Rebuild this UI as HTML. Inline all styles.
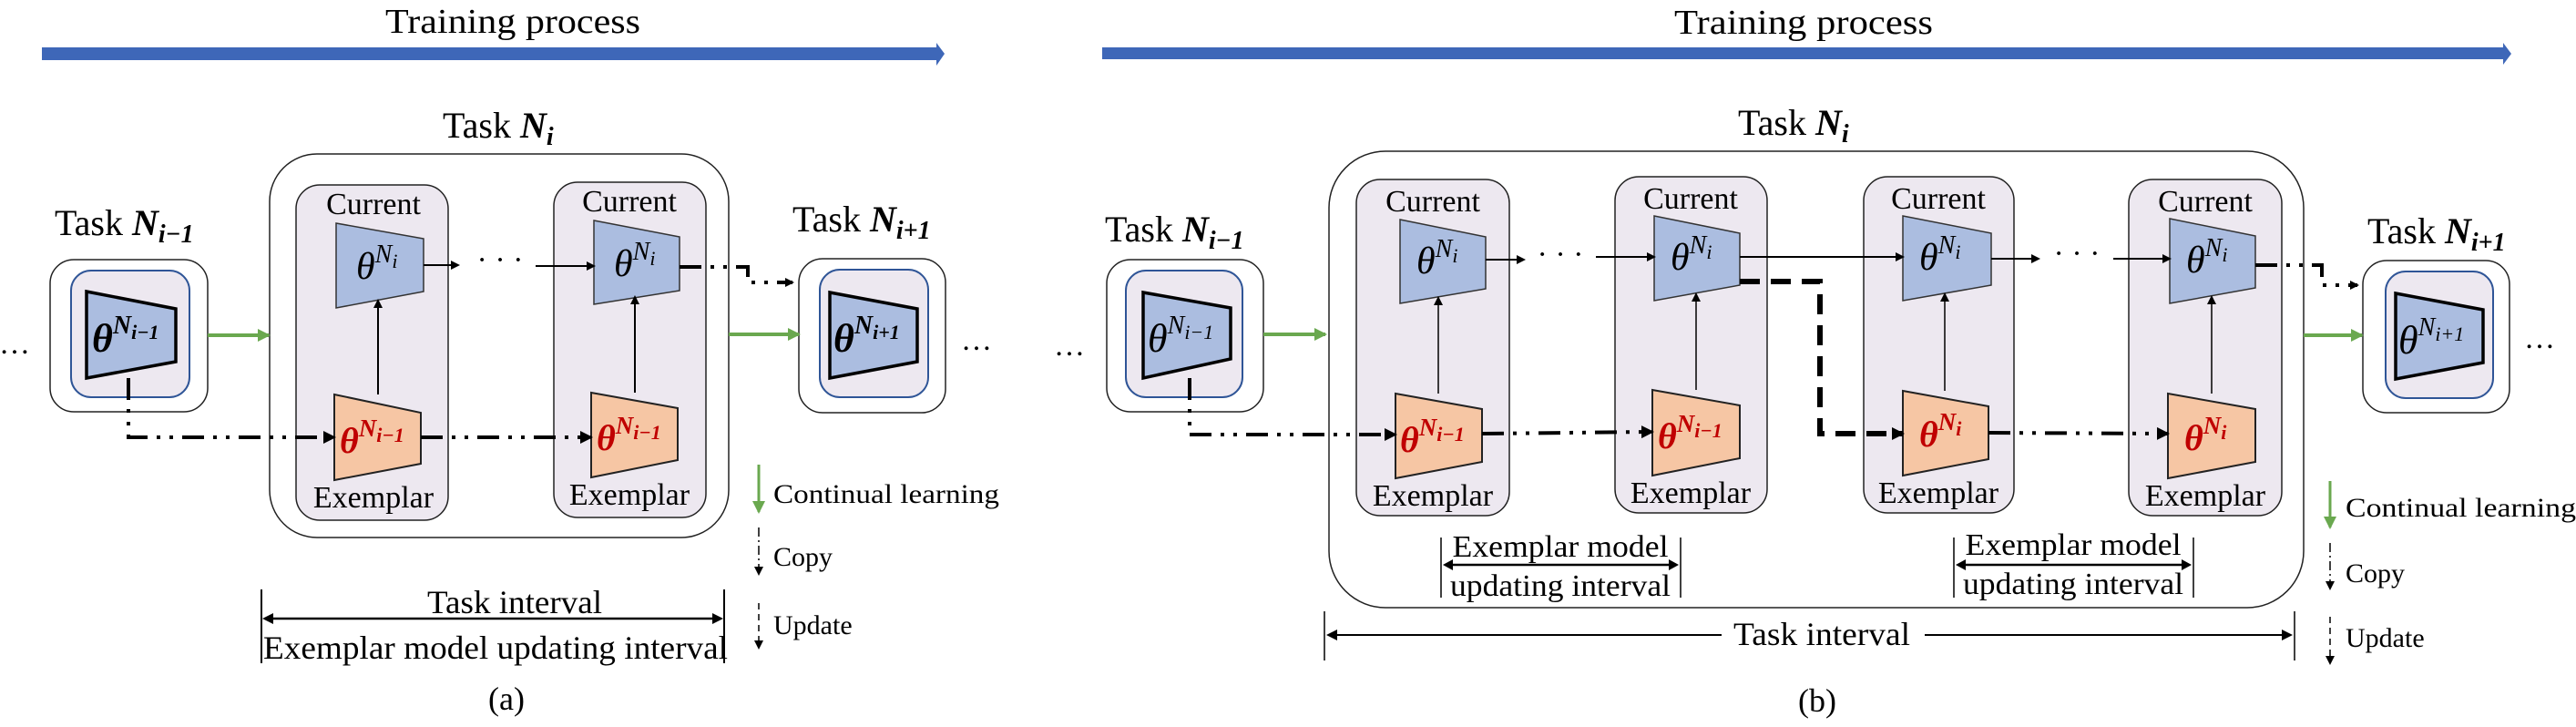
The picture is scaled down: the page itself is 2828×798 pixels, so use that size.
<!DOCTYPE html>
<html><head><meta charset="utf-8"><style>
html,body{margin:0;padding:0;background:#fff;}
svg{display:block;font-family:"Liberation Serif","Times New Roman","DejaVu Serif",serif;}
svg text{font-family:"Liberation Serif","Times New Roman","DejaVu Serif",serif;fill:#000;}
</style></head><body>
<svg width="2828" height="798" viewBox="0 0 2828 798" xmlns="http://www.w3.org/2000/svg" font-family="Liberation Serif, Times New Roman, DejaVu Serif, serif">
<defs>
<marker id="ak" markerWidth="10" markerHeight="10" refX="8" refY="5" orient="auto" markerUnits="userSpaceOnUse"><path d="M0,0 L10,5 L0,10 z" fill="#000"/></marker>
<marker id="akb" markerWidth="14" markerHeight="14" refX="12" refY="7" orient="auto" markerUnits="userSpaceOnUse"><path d="M0,0 L14,7 L0,14 z" fill="#000"/></marker>
<marker id="ag" markerWidth="14" markerHeight="14" refX="12" refY="7" orient="auto" markerUnits="userSpaceOnUse"><path d="M0,0 L14,7 L0,14 z" fill="#6aa84f"/></marker>
</defs>

<!-- ================= (a) ================= -->
<text x="563" y="36" font-size="38" text-anchor="middle" textLength="280" lengthAdjust="spacingAndGlyphs">Training process</text>
<polygon points="46,52 1028,52 1028,47 1037,59 1028,72 1028,66 46,66" fill="#3e67b8"/>

<text x="486" y="151" font-size="40">Task <tspan font-weight="bold" font-style="italic">N</tspan><tspan font-weight="bold" font-style="italic" font-size="28" dy="8">i</tspan></text>

<rect x="296" y="169" width="504" height="421" rx="52" fill="#fff" stroke="#222" stroke-width="1.5"/>
<rect x="325" y="203" width="167" height="368" rx="26" fill="#ede8f0" stroke="#222" stroke-width="1.5"/>
<rect x="608" y="200" width="167" height="368" rx="26" fill="#ede8f0" stroke="#222" stroke-width="1.5"/>

<text x="410" y="235" font-size="34" text-anchor="middle">Current</text>
<text x="691" y="232" font-size="34" text-anchor="middle">Current</text>
<text x="410" y="557" font-size="34" text-anchor="middle">Exemplar</text>
<text x="691" y="554" font-size="34" text-anchor="middle">Exemplar</text>

<polygon points="369,245 465,262 465,320 369,338" fill="#abbde0" stroke="#333" stroke-width="1.5"/>
<polygon points="652,242 746,260 746,319 652,334" fill="#abbde0" stroke="#333" stroke-width="1.5"/>
<polygon points="367,433 462,453 462,509 367,527" fill="#f6c6a4" stroke="#222" stroke-width="2"/>
<polygon points="649,431 744,448 744,505 649,524" fill="#f6c6a4" stroke="#222" stroke-width="2"/>

<text x="391" y="306" font-size="42" font-style="italic">θ<tspan font-size="28" dy="-18">N</tspan><tspan font-size="22" dy="6">i</tspan></text>
<text x="674" y="303" font-size="42" font-style="italic">θ<tspan font-size="28" dy="-18">N</tspan><tspan font-size="22" dy="6">i</tspan></text>
<text x="373" y="497" font-size="40" font-style="italic" font-weight="bold" style="fill:#c00000">θ<tspan font-size="27" dy="-18">N</tspan><tspan font-size="22" dy="6">i−1</tspan></text>
<text x="655" y="494" font-size="40" font-style="italic" font-weight="bold" style="fill:#c00000">θ<tspan font-size="27" dy="-18">N</tspan><tspan font-size="22" dy="6">i−1</tspan></text>

<line x1="415" y1="433" x2="415" y2="330" stroke="#000" stroke-width="2" marker-end="url(#ak)"/>
<line x1="697" y1="431" x2="697" y2="326" stroke="#000" stroke-width="2" marker-end="url(#ak)"/>

<line x1="465" y1="291" x2="503" y2="291" stroke="#000" stroke-width="2" marker-end="url(#ak)"/>
<text x="549" y="296" font-size="34" text-anchor="middle">· · ·</text>
<line x1="588" y1="292" x2="652" y2="292" stroke="#000" stroke-width="2" marker-end="url(#ak)"/>

<!-- Task N_{i-1} (a) -->
<text x="60" y="258" font-size="40">Task <tspan font-weight="bold" font-style="italic">N</tspan><tspan font-weight="bold" font-style="italic" font-size="28" dy="8">i−1</tspan></text>
<rect x="55" y="285" width="173" height="167" rx="26" fill="#fff" stroke="#222" stroke-width="1.5"/>
<rect x="78" y="297" width="130" height="139" rx="22" fill="#ede8f0" stroke="#2f5597" stroke-width="2"/>
<polygon points="95,320 193,339 193,397 95,415" fill="#abbde0" stroke="#000" stroke-width="3.5"/>
<text x="101" y="386" font-size="44" font-style="italic" font-weight="bold">θ<tspan font-size="28" dy="-20">N</tspan><tspan font-size="22" dy="6">i−1</tspan></text>
<text x="16" y="388" font-size="34" text-anchor="middle">…</text>
<line x1="228" y1="368" x2="295" y2="368" stroke="#6aa84f" stroke-width="4" marker-end="url(#ag)"/>

<path d="M141,415 L141,480 L367,480" fill="none" stroke="#000" stroke-width="4" stroke-dasharray="24,10,4,10,4,10" marker-end="url(#akb)"/>
<path d="M462,480 L649,480" fill="none" stroke="#000" stroke-width="4" stroke-dasharray="24,10,4,10,4,10" marker-end="url(#akb)"/>
<path d="M746,293 L821,293 L821,310 L870,310" fill="none" stroke="#000" stroke-width="4" stroke-dasharray="24,10,4,10,4,10" marker-end="url(#ak)"/>

<!-- Task N_{i+1} (a) -->
<text x="870" y="254" font-size="40">Task <tspan font-weight="bold" font-style="italic">N</tspan><tspan font-weight="bold" font-style="italic" font-size="28" dy="8">i+1</tspan></text>
<rect x="877" y="284" width="161" height="169" rx="26" fill="#fff" stroke="#222" stroke-width="1.5"/>
<rect x="900" y="296" width="119" height="140" rx="22" fill="#ede8f0" stroke="#2f5597" stroke-width="2"/>
<polygon points="911,321 1007,339 1007,397 911,415" fill="#abbde0" stroke="#000" stroke-width="3.5"/>
<text x="915" y="386" font-size="44" font-style="italic" font-weight="bold">θ<tspan font-size="28" dy="-20">N</tspan><tspan font-size="22" dy="6">i+1</tspan></text>
<line x1="800" y1="367" x2="877" y2="367" stroke="#6aa84f" stroke-width="4" marker-end="url(#ag)"/>
<text x="1072" y="384" font-size="34" text-anchor="middle">…</text>

<!-- legend (a) -->
<line x1="833" y1="510" x2="833" y2="562" stroke="#6aa84f" stroke-width="3" marker-end="url(#ag)"/>
<text x="849" y="552" font-size="30" textLength="248" lengthAdjust="spacingAndGlyphs">Continual learning</text>
<line x1="833" y1="579" x2="833" y2="630" stroke="#000" stroke-width="1.5" stroke-dasharray="10,4,2,4" marker-end="url(#ak)"/>
<text x="849" y="621" font-size="30">Copy</text>
<line x1="833" y1="662" x2="833" y2="711" stroke="#000" stroke-width="1.5" stroke-dasharray="7,5" marker-end="url(#ak)"/>
<text x="849" y="696" font-size="30">Update</text>

<!-- interval (a) -->
<line x1="287" y1="647" x2="287" y2="728" stroke="#000" stroke-width="2"/>
<line x1="795" y1="647" x2="795" y2="728" stroke="#000" stroke-width="2"/>
<line x1="296" y1="679" x2="786" y2="679" stroke="#000" stroke-width="2.5"/>
<path d="M288,679 L300,673 L300,685 z M794,679 L782,673 L782,685 z" fill="#000"/>
<text x="565" y="673" font-size="36" text-anchor="middle" textLength="192" lengthAdjust="spacingAndGlyphs">Task interval</text>
<text x="544" y="723" font-size="36" text-anchor="middle" textLength="510" lengthAdjust="spacingAndGlyphs">Exemplar model updating interval</text>
<text x="556" y="779" font-size="36" text-anchor="middle">(a)</text>

<!-- ================= (b) ================= -->
<text x="1980" y="37" font-size="38" text-anchor="middle" textLength="284" lengthAdjust="spacingAndGlyphs">Training process</text>
<polygon points="1210,52 2748,52 2748,47 2757,59 2748,71 2748,65 1210,65" fill="#3e67b8"/>

<text x="1908" y="148" font-size="40">Task <tspan font-weight="bold" font-style="italic">N</tspan><tspan font-weight="bold" font-style="italic" font-size="28" dy="8">i</tspan></text>

<rect x="1459" y="166" width="1070" height="501" rx="62" fill="#fff" stroke="#222" stroke-width="1.5"/>
<rect x="1489" y="197" width="168" height="369" rx="26" fill="#ede8f0" stroke="#222" stroke-width="1.5"/>
<rect x="1773" y="194" width="167" height="369" rx="26" fill="#ede8f0" stroke="#222" stroke-width="1.5"/>
<rect x="2046" y="194" width="165" height="369" rx="26" fill="#ede8f0" stroke="#222" stroke-width="1.5"/>
<rect x="2337" y="197" width="168" height="369" rx="26" fill="#ede8f0" stroke="#222" stroke-width="1.5"/>

<text x="1573" y="232" font-size="34" text-anchor="middle">Current</text>
<text x="1856" y="229" font-size="34" text-anchor="middle">Current</text>
<text x="2128" y="229" font-size="34" text-anchor="middle">Current</text>
<text x="2421" y="232" font-size="34" text-anchor="middle">Current</text>
<text x="1573" y="555" font-size="34" text-anchor="middle">Exemplar</text>
<text x="1856" y="552" font-size="34" text-anchor="middle">Exemplar</text>
<text x="2128" y="552" font-size="34" text-anchor="middle">Exemplar</text>
<text x="2421" y="555" font-size="34" text-anchor="middle">Exemplar</text>

<polygon points="1537,241 1631,260 1631,317 1537,333" fill="#abbde0" stroke="#333" stroke-width="1.5"/>
<polygon points="1816,237 1910,256 1910,313 1816,330" fill="#abbde0" stroke="#333" stroke-width="1.5"/>
<polygon points="2089,237 2186,256 2186,313 2089,330" fill="#abbde0" stroke="#333" stroke-width="1.5"/>
<polygon points="2382,240 2476,259 2476,316 2382,333" fill="#abbde0" stroke="#333" stroke-width="1.5"/>

<polygon points="1532,432 1627,449 1627,507 1532,525" fill="#f6c6a4" stroke="#222" stroke-width="2"/>
<polygon points="1814,428 1910,445 1910,503 1814,522" fill="#f6c6a4" stroke="#222" stroke-width="2"/>
<polygon points="2089,429 2183,446 2183,504 2089,522" fill="#f6c6a4" stroke="#222" stroke-width="2"/>
<polygon points="2380,432 2476,449 2476,507 2380,525" fill="#f6c6a4" stroke="#222" stroke-width="2"/>

<text x="1555" y="300" font-size="42" font-style="italic">θ<tspan font-size="28" dy="-18">N</tspan><tspan font-size="22" dy="6">i</tspan></text>
<text x="1834" y="296" font-size="42" font-style="italic">θ<tspan font-size="28" dy="-18">N</tspan><tspan font-size="22" dy="6">i</tspan></text>
<text x="2107" y="296" font-size="42" font-style="italic">θ<tspan font-size="28" dy="-18">N</tspan><tspan font-size="22" dy="6">i</tspan></text>
<text x="2400" y="299" font-size="42" font-style="italic">θ<tspan font-size="28" dy="-18">N</tspan><tspan font-size="22" dy="6">i</tspan></text>

<text x="1537" y="496" font-size="40" font-style="italic" font-weight="bold" style="fill:#c00000">θ<tspan font-size="27" dy="-18">N</tspan><tspan font-size="22" dy="6">i−1</tspan></text>
<text x="1820" y="492" font-size="40" font-style="italic" font-weight="bold" style="fill:#c00000">θ<tspan font-size="27" dy="-18">N</tspan><tspan font-size="22" dy="6">i−1</tspan></text>
<text x="2107" y="490" font-size="40" font-style="italic" font-weight="bold" style="fill:#c00000">θ<tspan font-size="27" dy="-18">N</tspan><tspan font-size="22" dy="6">i</tspan></text>
<text x="2398" y="494" font-size="40" font-style="italic" font-weight="bold" style="fill:#c00000">θ<tspan font-size="27" dy="-18">N</tspan><tspan font-size="22" dy="6">i</tspan></text>

<line x1="1579" y1="432" x2="1579" y2="327" stroke="#000" stroke-width="1.5" marker-end="url(#ak)"/>
<line x1="1862" y1="428" x2="1862" y2="323" stroke="#000" stroke-width="1.5" marker-end="url(#ak)"/>
<line x1="2135" y1="429" x2="2135" y2="323" stroke="#000" stroke-width="1.5" marker-end="url(#ak)"/>
<line x1="2428" y1="432" x2="2428" y2="326" stroke="#000" stroke-width="1.5" marker-end="url(#ak)"/>

<line x1="1631" y1="285" x2="1673" y2="285" stroke="#000" stroke-width="2" marker-end="url(#ak)"/>
<text x="1713" y="290" font-size="34" text-anchor="middle">· · ·</text>
<line x1="1752" y1="282" x2="1816" y2="282" stroke="#000" stroke-width="2" marker-end="url(#ak)"/>
<line x1="1910" y1="282" x2="2089" y2="282" stroke="#000" stroke-width="2" marker-end="url(#ak)"/>
<line x1="2186" y1="284" x2="2238" y2="284" stroke="#000" stroke-width="2" marker-end="url(#ak)"/>
<text x="2280" y="289" font-size="34" text-anchor="middle">· · ·</text>
<line x1="2320" y1="284" x2="2382" y2="284" stroke="#000" stroke-width="2" marker-end="url(#ak)"/>

<path d="M1910,309 L1998,309 L1998,476 L2089,476" fill="none" stroke="#000" stroke-width="6" stroke-dasharray="22,12" marker-end="url(#akb)"/>

<!-- Task N_{i-1} (b) -->
<text x="1213" y="265" font-size="40">Task <tspan font-weight="bold" font-style="italic">N</tspan><tspan font-weight="bold" font-style="italic" font-size="28" dy="8">i−1</tspan></text>
<rect x="1215" y="285" width="172" height="167" rx="26" fill="#fff" stroke="#222" stroke-width="1.5"/>
<rect x="1236" y="297" width="128" height="139" rx="22" fill="#ede8f0" stroke="#2f5597" stroke-width="2"/>
<polygon points="1255,321 1351,338 1351,394 1255,415" fill="#abbde0" stroke="#000" stroke-width="3.5"/>
<text x="1260" y="386" font-size="44" font-style="italic">θ<tspan font-size="28" dy="-20">N</tspan><tspan font-size="22" dy="6">i−1</tspan></text>
<text x="1174" y="390" font-size="34" text-anchor="middle">…</text>
<line x1="1387" y1="367" x2="1455" y2="367" stroke="#6aa84f" stroke-width="4" marker-end="url(#ag)"/>

<path d="M1306,415 L1306,477 L1532,477" fill="none" stroke="#000" stroke-width="4" stroke-dasharray="24,10,4,10,4,10" marker-end="url(#akb)"/>
<path d="M1627,476 L1814,474" fill="none" stroke="#000" stroke-width="4" stroke-dasharray="24,10,4,10,4,10" marker-end="url(#akb)"/>
<path d="M2183,475 L2380,476" fill="none" stroke="#000" stroke-width="4" stroke-dasharray="24,10,4,10,4,10" marker-end="url(#akb)"/>
<path d="M2476,291 L2549,291 L2549,313 L2588,313" fill="none" stroke="#000" stroke-width="4" stroke-dasharray="24,10,4,10,4,10" marker-end="url(#ak)"/>

<!-- Task N_{i+1} (b) -->
<text x="2599" y="267" font-size="40">Task <tspan font-weight="bold" font-style="italic">N</tspan><tspan font-weight="bold" font-style="italic" font-size="28" dy="8">i+1</tspan></text>
<rect x="2594" y="286" width="161" height="167" rx="26" fill="#fff" stroke="#222" stroke-width="1.5"/>
<rect x="2619" y="298" width="118" height="139" rx="22" fill="#ede8f0" stroke="#2f5597" stroke-width="2"/>
<polygon points="2630,322 2726,340 2726,398 2630,416" fill="#abbde0" stroke="#000" stroke-width="3.5"/>
<text x="2633" y="388" font-size="44" font-style="italic">θ<tspan font-size="28" dy="-20">N</tspan><tspan font-size="22" dy="6">i+1</tspan></text>
<line x1="2529" y1="368" x2="2593" y2="368" stroke="#6aa84f" stroke-width="4" marker-end="url(#ag)"/>
<text x="2788" y="382" font-size="34" text-anchor="middle">…</text>

<!-- legend (b) -->
<line x1="2558" y1="528" x2="2558" y2="579" stroke="#6aa84f" stroke-width="3" marker-end="url(#ag)"/>
<text x="2575" y="567" font-size="30" textLength="253" lengthAdjust="spacingAndGlyphs">Continual learning</text>
<line x1="2558" y1="596" x2="2558" y2="646" stroke="#000" stroke-width="1.5" stroke-dasharray="10,4,2,4" marker-end="url(#ak)"/>
<text x="2575" y="639" font-size="30">Copy</text>
<line x1="2558" y1="677" x2="2558" y2="728" stroke="#000" stroke-width="1.5" stroke-dasharray="7,5" marker-end="url(#ak)"/>
<text x="2575" y="710" font-size="30">Update</text>

<!-- exemplar intervals (b) -->
<line x1="1582" y1="590" x2="1582" y2="656" stroke="#000" stroke-width="1.5"/>
<line x1="1845" y1="590" x2="1845" y2="656" stroke="#000" stroke-width="1.5"/>
<line x1="1590" y1="620" x2="1837" y2="620" stroke="#000" stroke-width="2.5"/>
<path d="M1584,620 L1595,614 L1595,626 z M1843,620 L1832,614 L1832,626 z" fill="#000"/>
<text x="1713" y="611" font-size="34" text-anchor="middle" textLength="237" lengthAdjust="spacingAndGlyphs">Exemplar model</text>
<text x="1713" y="654" font-size="34" text-anchor="middle" textLength="242" lengthAdjust="spacingAndGlyphs">updating interval</text>

<line x1="2145" y1="590" x2="2145" y2="656" stroke="#000" stroke-width="1.5"/>
<line x1="2408" y1="590" x2="2408" y2="656" stroke="#000" stroke-width="1.5"/>
<line x1="2153" y1="620" x2="2400" y2="620" stroke="#000" stroke-width="2.5"/>
<path d="M2147,620 L2158,614 L2158,626 z M2406,620 L2395,614 L2395,626 z" fill="#000"/>
<text x="2276" y="609" font-size="34" text-anchor="middle" textLength="237" lengthAdjust="spacingAndGlyphs">Exemplar model</text>
<text x="2276" y="652" font-size="34" text-anchor="middle" textLength="242" lengthAdjust="spacingAndGlyphs">updating interval</text>

<!-- task interval (b) -->
<line x1="1454" y1="671" x2="1454" y2="725" stroke="#000" stroke-width="1.5"/>
<line x1="2519" y1="671" x2="2519" y2="725" stroke="#000" stroke-width="1.5"/>
<line x1="1460" y1="697" x2="1890" y2="697" stroke="#000" stroke-width="2"/>
<line x1="2113" y1="697" x2="2512" y2="697" stroke="#000" stroke-width="2"/>
<path d="M1456,697 L1468,691 L1468,703 z M2517,697 L2505,691 L2505,703 z" fill="#000"/>
<text x="2000" y="708" font-size="36" text-anchor="middle" textLength="194" lengthAdjust="spacingAndGlyphs">Task interval</text>
<text x="1995" y="781" font-size="36" text-anchor="middle">(b)</text>
</svg>
</body></html>
